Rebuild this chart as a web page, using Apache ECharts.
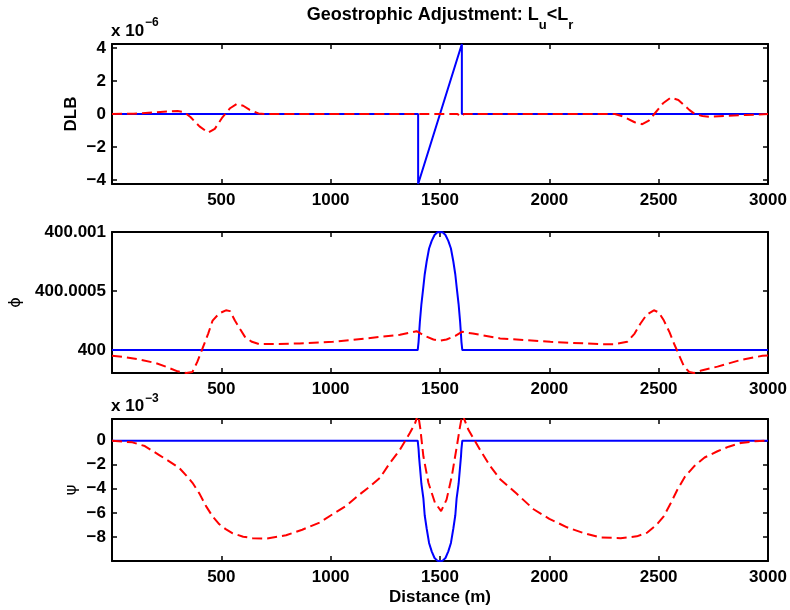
<!DOCTYPE html>
<html><head><meta charset="utf-8">
<script src="https://cdn.jsdelivr.net/npm/echarts@6/dist/echarts.min.js"></script>
<style>html,body{margin:0;padding:0;background:#fff}#c{width:790px;height:610px}</style>
</head><body><div id="c"></div>
<script>
// ---------- x ticks ----------
const xTickVals = [500, 1000, 1500, 2000, 2500, 3000];

// ---------- Panel 1: DLB (units of 1e-6) ----------
const dlbTickVals = [-4, -2, 0, 2, 4];
const dlbBlueX = [0, 1400, 1400, 1600, 1600, 3000];
const dlbBlue  = [0, 0, -4.24, 4.24, 0, 0];
const dlbRedX = [0, 100, 200, 250, 300, 330, 360, 400, 440, 470, 505, 540, 570, 600, 630, 670, 700, 1000, 1400, 1580, 1595, 1610, 2000, 2300, 2340, 2390, 2425, 2455, 2480, 2520, 2555, 2590, 2615, 2640, 2665, 2700, 2730, 2800, 2900, 3000];
const dlbRed  = [0, 0.02, 0.1, 0.15, 0.18, 0.12, -0.2, -0.75, -1.13, -0.9, -0.2, 0.35, 0.6, 0.5, 0.25, 0.03, 0, 0, 0, 0, -0.15, 0, 0, 0, -0.16, -0.5, -0.62, -0.4, 0, 0.65, 0.99, 0.85, 0.55, 0.25, 0.0, -0.12, -0.16, -0.12, -0.06, 0];

// ---------- Panel 2: phi (offset from 400, units of 1e-3) ----------
const phiTickVals = [0, 0.5, 1];
const phiTickLabels = ['400', '400.0005', '400.001'];
const phiBlueX = [0, 1398, 1402, 1404, 1408, 1415, 1423, 1430, 1439, 1450, 1462, 1475, 1488, 1500, 1512, 1525, 1538, 1550, 1561, 1570, 1577, 1585, 1592, 1596, 1598, 1602, 3000];
const phiBlue  = [0, 0, 0.07, 0.13, 0.24, 0.39, 0.52, 0.64, 0.75, 0.86, 0.925, 0.975, 0.997, 1.0, 0.997, 0.975, 0.925, 0.86, 0.75, 0.64, 0.52, 0.39, 0.24, 0.13, 0.07, 0, 0];
const phiRedX = [0, 60, 124, 200, 246, 300, 340, 368, 390, 414, 440, 460, 490, 521, 540, 562, 585, 608, 640, 674, 750, 858, 1010, 1162, 1317, 1393, 1430, 1470, 1500, 1530, 1570, 1600, 1650, 1775, 2005, 2234, 2300, 2356, 2390, 2417, 2445, 2478, 2500, 2524, 2550, 2570, 2595, 2616, 2640, 2662, 2700, 2769, 2875, 2975, 3000];
const phiRed  = [-0.048, -0.06, -0.079, -0.11, -0.14, -0.18, -0.194, -0.185, -0.1, 0.014, 0.14, 0.25, 0.31, 0.337, 0.33, 0.25, 0.18, 0.112, 0.07, 0.05, 0.052, 0.056, 0.07, 0.099, 0.13, 0.16, 0.12, 0.09, 0.079, 0.09, 0.12, 0.155, 0.14, 0.099, 0.07, 0.05, 0.05, 0.07, 0.14, 0.225, 0.3, 0.337, 0.32, 0.25, 0.15, 0.056, -0.05, -0.14, -0.185, -0.194, -0.17, -0.14, -0.084, -0.048, -0.045];

// ---------- Panel 3: psi (units of 1e-3) ----------
const psiTickVals = [-8, -6, -4, -2, 0];
const psiBlueX = [0, 1398, 1402, 1404, 1408, 1415, 1424, 1430, 1439, 1450, 1462, 1475, 1488, 1500, 1512, 1525, 1538, 1550, 1561, 1570, 1576, 1585, 1592, 1596, 1598, 1602, 3000];
const psiBlue  = [0, 0, -0.7, -1.3, -2.13, -3.6, -4.8, -6.2, -7.3, -8.5, -9.2, -9.75, -9.97, -10, -9.97, -9.75, -9.2, -8.5, -7.3, -6.2, -4.8, -3.6, -2.13, -1.3, -0.7, 0, 0];
const psiRedX = [0, 93, 150, 216, 260, 307, 340, 368, 400, 430, 460, 491, 520, 552, 600, 644, 705, 796, 870, 950, 1010, 1072, 1130, 1180, 1225, 1271, 1317, 1362, 1385, 1400, 1410, 1424, 1447, 1477, 1505, 1530, 1554, 1577, 1590, 1602, 1630, 1683, 1729, 1775, 1850, 1928, 2000, 2081, 2160, 2234, 2326, 2400, 2448, 2490, 2524, 2555, 2586, 2620, 2662, 2710, 2769, 2820, 2876, 2940, 3000];
const psiRed  = [0, -0.14, -0.45, -1.2, -1.7, -2.26, -2.9, -3.5, -4.4, -5.44, -6.3, -6.95, -7.35, -7.7, -7.98, -8.11, -8.14, -7.86, -7.4, -6.8, -6.1, -5.4, -4.5, -3.8, -3.1, -1.85, -0.75, 0.64, 1.4, 2.2, 1.0, -1.3, -3.5, -5.16, -5.85, -4.9, -2.95, -0.47, 1.0, 2.2, 0.9, -0.75, -2.1, -3.2, -4.4, -5.7, -6.5, -7.2, -7.7, -8.05, -8.1, -7.95, -7.64, -7.0, -6.27, -5.2, -4.06, -3.0, -2.13, -1.4, -0.88, -0.5, -0.19, -0.05, 0];

// ---------- build ----------
const FONT = 'Liberation Sans';
const zip = (xs, ys) => xs.map((x, i) => [x, ys[i]]);
const minus = v => String(v).replace('-', '\u2212');
const grids = [
  {left: 112, top: 44, width: 656, height: 140, outerBoundsMode: 'none', containLabel: false},
  {left: 112, top: 232, width: 656, height: 141, outerBoundsMode: 'none', containLabel: false},
  {left: 112, top: 419, width: 656, height: 142, outerBoundsMode: 'none', containLabel: false}
];
const lbl = {color: '#000', fontFamily: FONT, fontWeight: 'bold', fontSize: 17};
function xAx(i, pos, show) {
  const a = {
    type: 'value', gridIndex: i, position: pos, min: 0, max: 3000, interval: 500,
    axisLine: {show: true, onZero: false, lineStyle: {color: '#000', width: 2}},
    axisTick: {show: true, inside: true, length: 5, lineStyle: {color: '#000', width: 1.5}},
    axisLabel: Object.assign({show: show, showMinLabel: false, margin: 8,
      formatter: v => (xTickVals.indexOf(v) >= 0 ? String(v) : '')}, lbl),
    splitLine: {show: false}
  };
  if (show && i === 2) {
    a.name = 'Distance (m)'; a.nameLocation = 'middle'; a.nameGap = 28; a.nameMoveOverlap = false;
    a.nameTextStyle = {color: '#000', fontFamily: FONT, fontWeight: 'bold', fontSize: 17};
  }
  return a;
}
function yAx(i, pos, show, min, max, ticks, fmt, name, nameGap, nameStyle) {
  const a = {
    type: 'value', gridIndex: i, position: pos, min: min, max: max,
    axisLine: {show: true, onZero: false, lineStyle: {color: '#000', width: 2}},
    axisTick: {show: true, inside: true, length: 5, customValues: ticks, lineStyle: {color: '#000', width: 1.5}},
    axisLabel: Object.assign({show: show, margin: 6, customValues: ticks, formatter: fmt}, lbl),
    splitLine: {show: false}
  };
  if (show && name) {
    a.name = name; a.nameLocation = 'middle'; a.nameRotate = 90; a.nameGap = nameGap;
    a.nameMoveOverlap = false;
    a.nameTextStyle = nameStyle;
  }
  return a;
}
const nameBold = {color: '#000', fontFamily: FONT, fontWeight: 'bold', fontSize: 17};
const nameSym = {color: '#000', fontFamily: 'DejaVu Sans', fontWeight: 'normal', fontSize: 16};
const yRanges = [[-4.24, 4.24], [-0.194, 1.0], [-10, 1.8]];
const yTicks = [dlbTickVals, phiTickVals, psiTickVals];
const yFmts = [minus, v => phiTickLabels[phiTickVals.indexOf(+(+v).toFixed(4))] || '', minus];
const yNames = [['DLB', 32, nameBold], ['\u03D5', 88, nameSym], ['\u03C8', 32, nameSym]];

const xAxes = [], yAxes = [];
for (let i = 0; i < 3; i++) {
  xAxes.push(xAx(i, 'bottom', true));
  yAxes.push(yAx(i, 'left', true, yRanges[i][0], yRanges[i][1], yTicks[i], yFmts[i], yNames[i][0], yNames[i][1], yNames[i][2]));
}
for (let i = 0; i < 3; i++) {
  xAxes.push(xAx(i, 'top', false));
  yAxes.push(yAx(i, 'right', false, yRanges[i][0], yRanges[i][1], yTicks[i], yFmts[i]));
}
const blue = {color: '#0000ff', width: 2};
const red = {color: '#ff0000', width: 2, type: [10, 5]};
const mk = (i, xs, ys, style) => ({
  type: 'line', xAxisIndex: i, yAxisIndex: i, data: zip(xs, ys), showSymbol: false,
  symbol: 'none', lineStyle: style, clip: true, animation: false, z: 2
});
const series = [
  mk(0, dlbBlueX, dlbBlue, blue), mk(0, dlbRedX, dlbRed, red),
  mk(1, phiBlueX, phiBlue, blue), mk(1, phiRedX, phiRed, red),
  mk(2, psiBlueX, psiBlue, blue), mk(2, psiRedX, psiRed, red)
];
const rm = {fontFamily: FONT, fontWeight: 'bold', color: '#000'};
const txt = (s, l, t, fs) => ({text: s, left: l, top: t, padding: 0,
  textStyle: Object.assign({fontSize: fs, lineHeight: fs}, rm)});
const chart = echarts.init(document.getElementById('c'), null, {renderer: 'canvas'});
chart.setOption({
  animation: false,
  backgroundColor: '#fff',
  title: [
    {text: '{a|Geostrophic Adjustment: L}{b|u}{a|<L}{b|r}', left: 440, top: 6, textAlign: 'center', padding: 0,
     textStyle: {rich: {
       a: Object.assign({fontSize: 18, lineHeight: 18, verticalAlign: 'top'}, rm),
       b: Object.assign({fontSize: 13, lineHeight: 26, verticalAlign: 'bottom'}, rm)
     }}},
    txt('x 10', 111, 23, 17), txt('\u22126', 145, 17, 12),
    txt('x 10', 111, 398, 17), txt('\u22123', 145, 393, 12)
  ],
  grid: grids,
  xAxis: xAxes,
  yAxis: yAxes,
  series: series
});
</script></body></html>
